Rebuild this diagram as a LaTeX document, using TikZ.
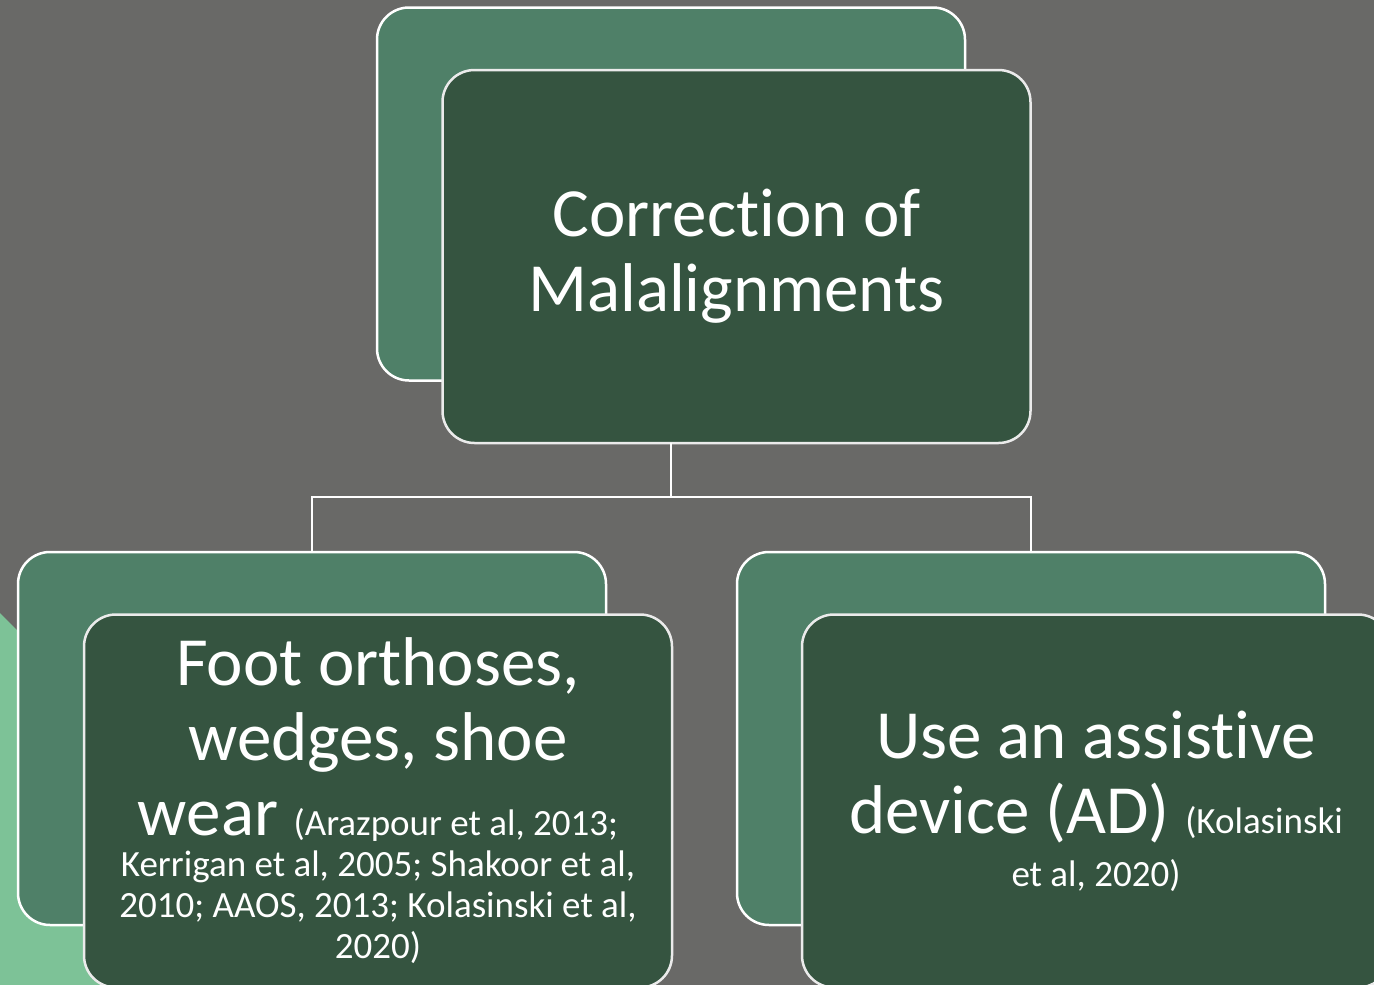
\documentclass[tikz,border=0pt]{standalone}
\usepackage{fontspec}
\setmainfont{Carlito}[Ligatures=NoCommon]
\usetikzlibrary{positioning}
\definecolor{slate}{HTML}{696967}
\definecolor{sage}{HTML}{4F8068}
\definecolor{pine}{HTML}{355440}
\definecolor{mint}{HTML}{7DC297}
\newcommand\cardbig{\fontsize{69}{75}\selectfont\spaceskip=0pt\xspaceskip=0pt}
\newcommand\cardsmall{\fontsize{37}{41}\selectfont\spaceskip=0pt\xspaceskip=0pt}

\begin{document}
\begin{tikzpicture}[x=1pt,y=-1pt,
  card/.style={line width=2.5pt,rounded corners=32pt,minimum width=588pt,minimum height=373pt,inner sep=0pt,outer sep=0pt},
  backcard/.style={card,draw=white,fill=sage},
  frontcard/.style={card,draw=black!8,fill=pine,text=white,text width=560pt,align=flush center},
  link/.style={draw=white,line width=2.5pt}]

\useasboundingbox (0,0) rectangle (1374,985);
\clip (0,0) rectangle (1374,985);
\fill[slate] (0,0) rectangle (1374,985);
\fill[mint] (0,613) -- (372,985) -- (0,985) -- cycle;

\node[backcard] (topback) at (671,194) {};
\node[backcard] (leftback) at (312,738.5) {};
\node[backcard] (rightback) at (1031,738.5) {};

\node[frontcard] (topfront) at ([shift={(65.5,62.5)}]topback.center)
  {\cardbig Correction of\\Malalignments\par};
\node[frontcard] (leftfront) at ([shift={(66,62.5)}]leftback.center)
  {\cardbig Foot orthoses,\\ wedges, shoe\\ wear {\cardsmall (Arazpour et al, 2013;}\par
   \cardsmall Kerrigan et al, 2005; Shakoor et al,\\ 2010; AAOS, 2013; Kolasinski et al,\\ 2020)\par};
\node[frontcard] (rightfront) at ([shift={(65,62.5)}]rightback.center)
  {\cardbig Use an assistive\\ device (AD) {\cardsmall (Kolasinski}\par
   \cardsmall\baselineskip=53pt et al, 2020)\par};

\coordinate (fork) at (671,497);
\draw[link] (topback.south |- topfront.south) -- (fork) -| (leftback.north);
\draw[link] (fork) -| (rightback.north);

\end{tikzpicture}
\end{document}
